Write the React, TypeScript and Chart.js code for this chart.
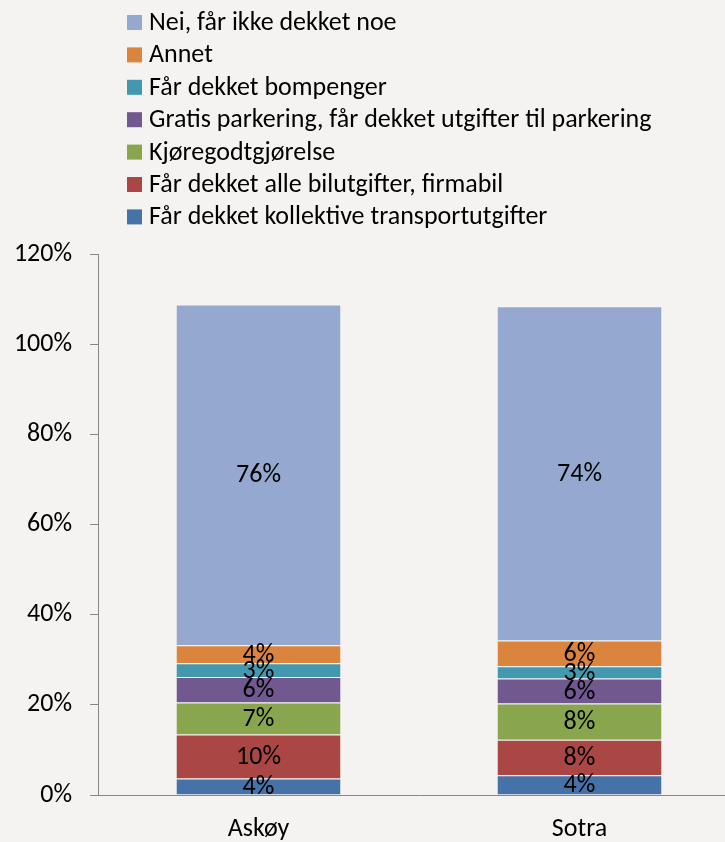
import React, { useEffect, useRef } from "react";
import { Chart, registerables } from "chart.js";

Chart.register(...registerables);

// ---- data ----
const categories = ["Askøy", "Sotra"];
const seriesLabels = [
  "Får dekket kollektive transportutgifter",
  "Får dekket alle bilutgifter, firmabil",
  "Kjøregodtgjørelse",
  "Gratis parkering, får dekket utgifter til parkering",
  "Får dekket bompenger",
  "Annet",
  "Nei, får ikke dekket noe",
];
const kollektive = [3.66, 4.39];
const firmabil = [9.75, 7.84];
const kjoregodt = [7.09, 8.04];
const parkering = [5.7, 5.55];
const bompenger = [3.01, 2.73];
const annet = [3.99, 5.7];
const nei = [75.6, 74.15];
const seriesColors = ["#4572A7", "#AA4643", "#89A54E", "#71588F", "#4198AF", "#DB843D", "#95A9D0"];
const yMin = 0;
const yMax = 120;
const yStep = 20;

const FONT = "Carlito, Calibri, Lato, 'Open Sans', sans-serif";
const FS = 26;
const BG = "#F4F3F1";

const legendPlugin = {
  id: "stackLegend",
  afterDraw(chart: any) {
    const ctx = chart.ctx;
    const ds = chart.data.datasets;
    ctx.save();
    ctx.font = `${FS}px ${FONT}`;
    ctx.textBaseline = "middle";
    ctx.textAlign = "left";
    for (let i = 0; i < ds.length; i++) {
      const d = ds[ds.length - 1 - i];
      const cy = 22.5 + 32.4 * i;
      ctx.fillStyle = d.backgroundColor;
      ctx.fillRect(127, cy - 7.5, 15, 15);
      ctx.fillStyle = "#000";
      ctx.fillText(d.label, 149, cy + 1);
    }
    ctx.restore();
  },
};

const valueLabelPlugin = {
  id: "valueLabels",
  afterDatasetsDraw(chart: any) {
    const ctx = chart.ctx;
    ctx.save();
    ctx.font = `${FS}px ${FONT}`;
    ctx.textAlign = "center";
    ctx.textBaseline = "middle";
    ctx.fillStyle = "#000";
    chart.data.datasets.forEach((d: any, di: number) => {
      const meta = chart.getDatasetMeta(di);
      meta.data.forEach((el: any, i: number) => {
        const v = d.data[i];
        const cy = (el.y + el.base) / 2;
        ctx.fillText(Math.round(v) + "%", el.x, cy + 1);
      });
    });
    ctx.restore();
  },
};

export default function App() {
  const ref = useRef<HTMLCanvasElement | null>(null);
  useEffect(() => {
    if (!ref.current) return;
    const values = [kollektive, firmabil, kjoregodt, parkering, bompenger, annet, nei];
    const chart = new Chart(ref.current, {
      type: "bar",
      data: {
        labels: categories,
        datasets: values.map((arr, i) => ({
          label: seriesLabels[i],
          data: arr,
          backgroundColor: seriesColors[i],
          borderColor: "rgba(255,255,255,0.35)",
          borderWidth: { top: 1, left: 0, right: 0, bottom: 0 },
          borderSkipped: false,
          barPercentage: 1,
          categoryPercentage: 0.511,
        })),
      },
      options: {
        responsive: false,
        animation: false,
        devicePixelRatio: 1,
        layout: { padding: { top: 254, right: 0, left: 0, bottom: 0 } },
        plugins: {
          legend: { display: false },
          tooltip: { enabled: false },
        },
        scales: {
          x: {
            stacked: true,
            grid: { display: true, drawOnChartArea: false, drawTicks: false },
            border: { display: true, color: "#868686", width: 1 },
            ticks: { font: { size: FS, family: FONT }, color: "#000", padding: 19 },
            afterFit(scale: any) {
              scale.height = 47;
            },
          },
          y: {
            stacked: true,
            min: yMin,
            max: yMax,
            grid: { display: true, drawOnChartArea: false, drawTicks: true, tickLength: 8, color: "#868686" },
            border: { display: true, color: "#868686", width: 1 },
            ticks: {
              stepSize: yStep,
              padding: 18,
              font: { size: FS, family: FONT },
              color: "#000",
              callback: (v: any) => v + "%",
            },
            afterFit(scale: any) {
              scale.width = 98;
            },
          },
        },
      },
      plugins: [legendPlugin, valueLabelPlugin],
    });
    return () => chart.destroy();
  }, []);

  return (
    <div
      style={{
        position: "fixed",
        left: 0,
        top: 0,
        width: 725,
        height: 842,
        overflow: "hidden",
        background: BG,
      }}
    >
      <canvas ref={ref} width={740} height={842} style={{ display: "block" }} />
    </div>
  );
}
